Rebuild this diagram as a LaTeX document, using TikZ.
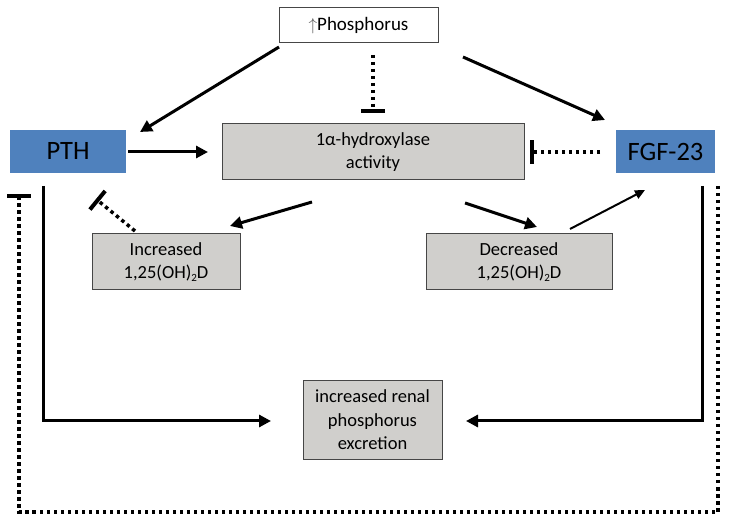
\documentclass[tikz,border=0pt]{standalone}
\usepackage{fontspec}
\setmainfont{Carlito}
\usetikzlibrary{arrows.meta}
\definecolor{boxgray}{RGB}{208,207,204}
\definecolor{pthblue}{RGB}{79,129,189}
\definecolor{edgegray}{RGB}{70,70,70}
\newcommand{\subtwo}{{\fontsize{11}{11}\selectfont\raisebox{-3pt}{2}}}
\begin{document}
\begin{tikzpicture}[x=1pt,y=-1pt,
  gbox/.style={draw=edgegray,fill=boxgray,line width=1pt,align=center,font=\fontsize{18.5}{23}\selectfont,inner sep=0pt},
  bluebox/.style={fill=pthblue,inner sep=0pt,font=\fontsize{26.5}{30}\selectfont},
  act/.style={line width=3pt,-{Triangle[length=12pt,width=12pt]}},
  inh/.style={line width=3.5pt,dash pattern=on 3.5pt off 3.5pt,-{Bar[width=24pt,line width=4pt]}},
  ]
\useasboundingbox (0,0) rectangle (729,521);
% nodes
\node[draw=edgegray,fill=white,line width=1pt,minimum width=159pt,minimum height=35pt,inner sep=0pt,font=\fontsize{19}{22}\selectfont] (phos) at (358.5,25.5) {{\color{gray!70!black}$\uparrow$}Phosphorus};
\node[bluebox,minimum width=116pt,minimum height=43pt] (pth) at (68,151.5) {PTH};
\node[bluebox,minimum width=99pt,minimum height=43pt] (fgf) at (665.5,151.5) {FGF-23};
\node[gbox,minimum width=302pt,minimum height=56pt] (hyd) at (373,152) {1α-hydroxylase\\activity};
\node[gbox,minimum width=148pt,minimum height=56pt] (inc) at (166,262) {Increased\\1,25(OH)\subtwo D};
\node[gbox,minimum width=186pt,minimum height=56pt] (dec) at (519,262) {Decreased\\1,25(OH)\subtwo D};
\node[gbox,minimum width=139pt,minimum height=79pt,font=\fontsize{18.5}{23.5}\selectfont] (ren) at (372.5,420) {increased renal\\phosphorus\\excretion};
% coordinates
\coordinate (p1) at (279,47);   \coordinate (p1e) at (140,132);
\coordinate (p2) at (463,57);   \coordinate (p2e) at (605,120);
\coordinate (p3) at (373,55);   \coordinate (p3e) at (373,113);
\coordinate (a1) at (128,152);  \coordinate (a1e) at (208,152);
\coordinate (f1) at (600,152);  \coordinate (f1e) at (530,152);
\coordinate (h1) at (312,202);  \coordinate (h1e) at (230,226);
\coordinate (h2) at (465,203);  \coordinate (h2e) at (537,227);
\coordinate (d1) at (570,229);  \coordinate (d1e) at (645,190);
\coordinate (i1) at (135,231);  \coordinate (i1e) at (96,199);
\coordinate (l1) at (43,186);   \coordinate (l1e) at (271,421);
\coordinate (r1) at (702,186);  \coordinate (r1e) at (466,421);
\coordinate (o1) at (718,186);  \coordinate (o1e) at (19,194);
% connectors
\draw[act] (p1) -- (p1e);
\draw[act] (p2) -- (p2e);
\draw[inh] (p3) -- (p3e);
\draw[act] (a1) -- (a1e);
\draw[inh] (f1) -- (f1e);
\draw[act] (h1) -- (h1e);
\draw[act] (h2) -- (h2e);
\draw[line width=2pt,-{Triangle[length=10pt,width=9pt]}] (d1) -- (d1e);
\draw[inh] (i1) -- (i1e);
\draw[act] (l1) |- (l1e);
\draw[act] (r1) |- (r1e);
\draw[inh] (o1) -- (718,512) -- (19,512) -- (o1e);
\end{tikzpicture}
\end{document}
